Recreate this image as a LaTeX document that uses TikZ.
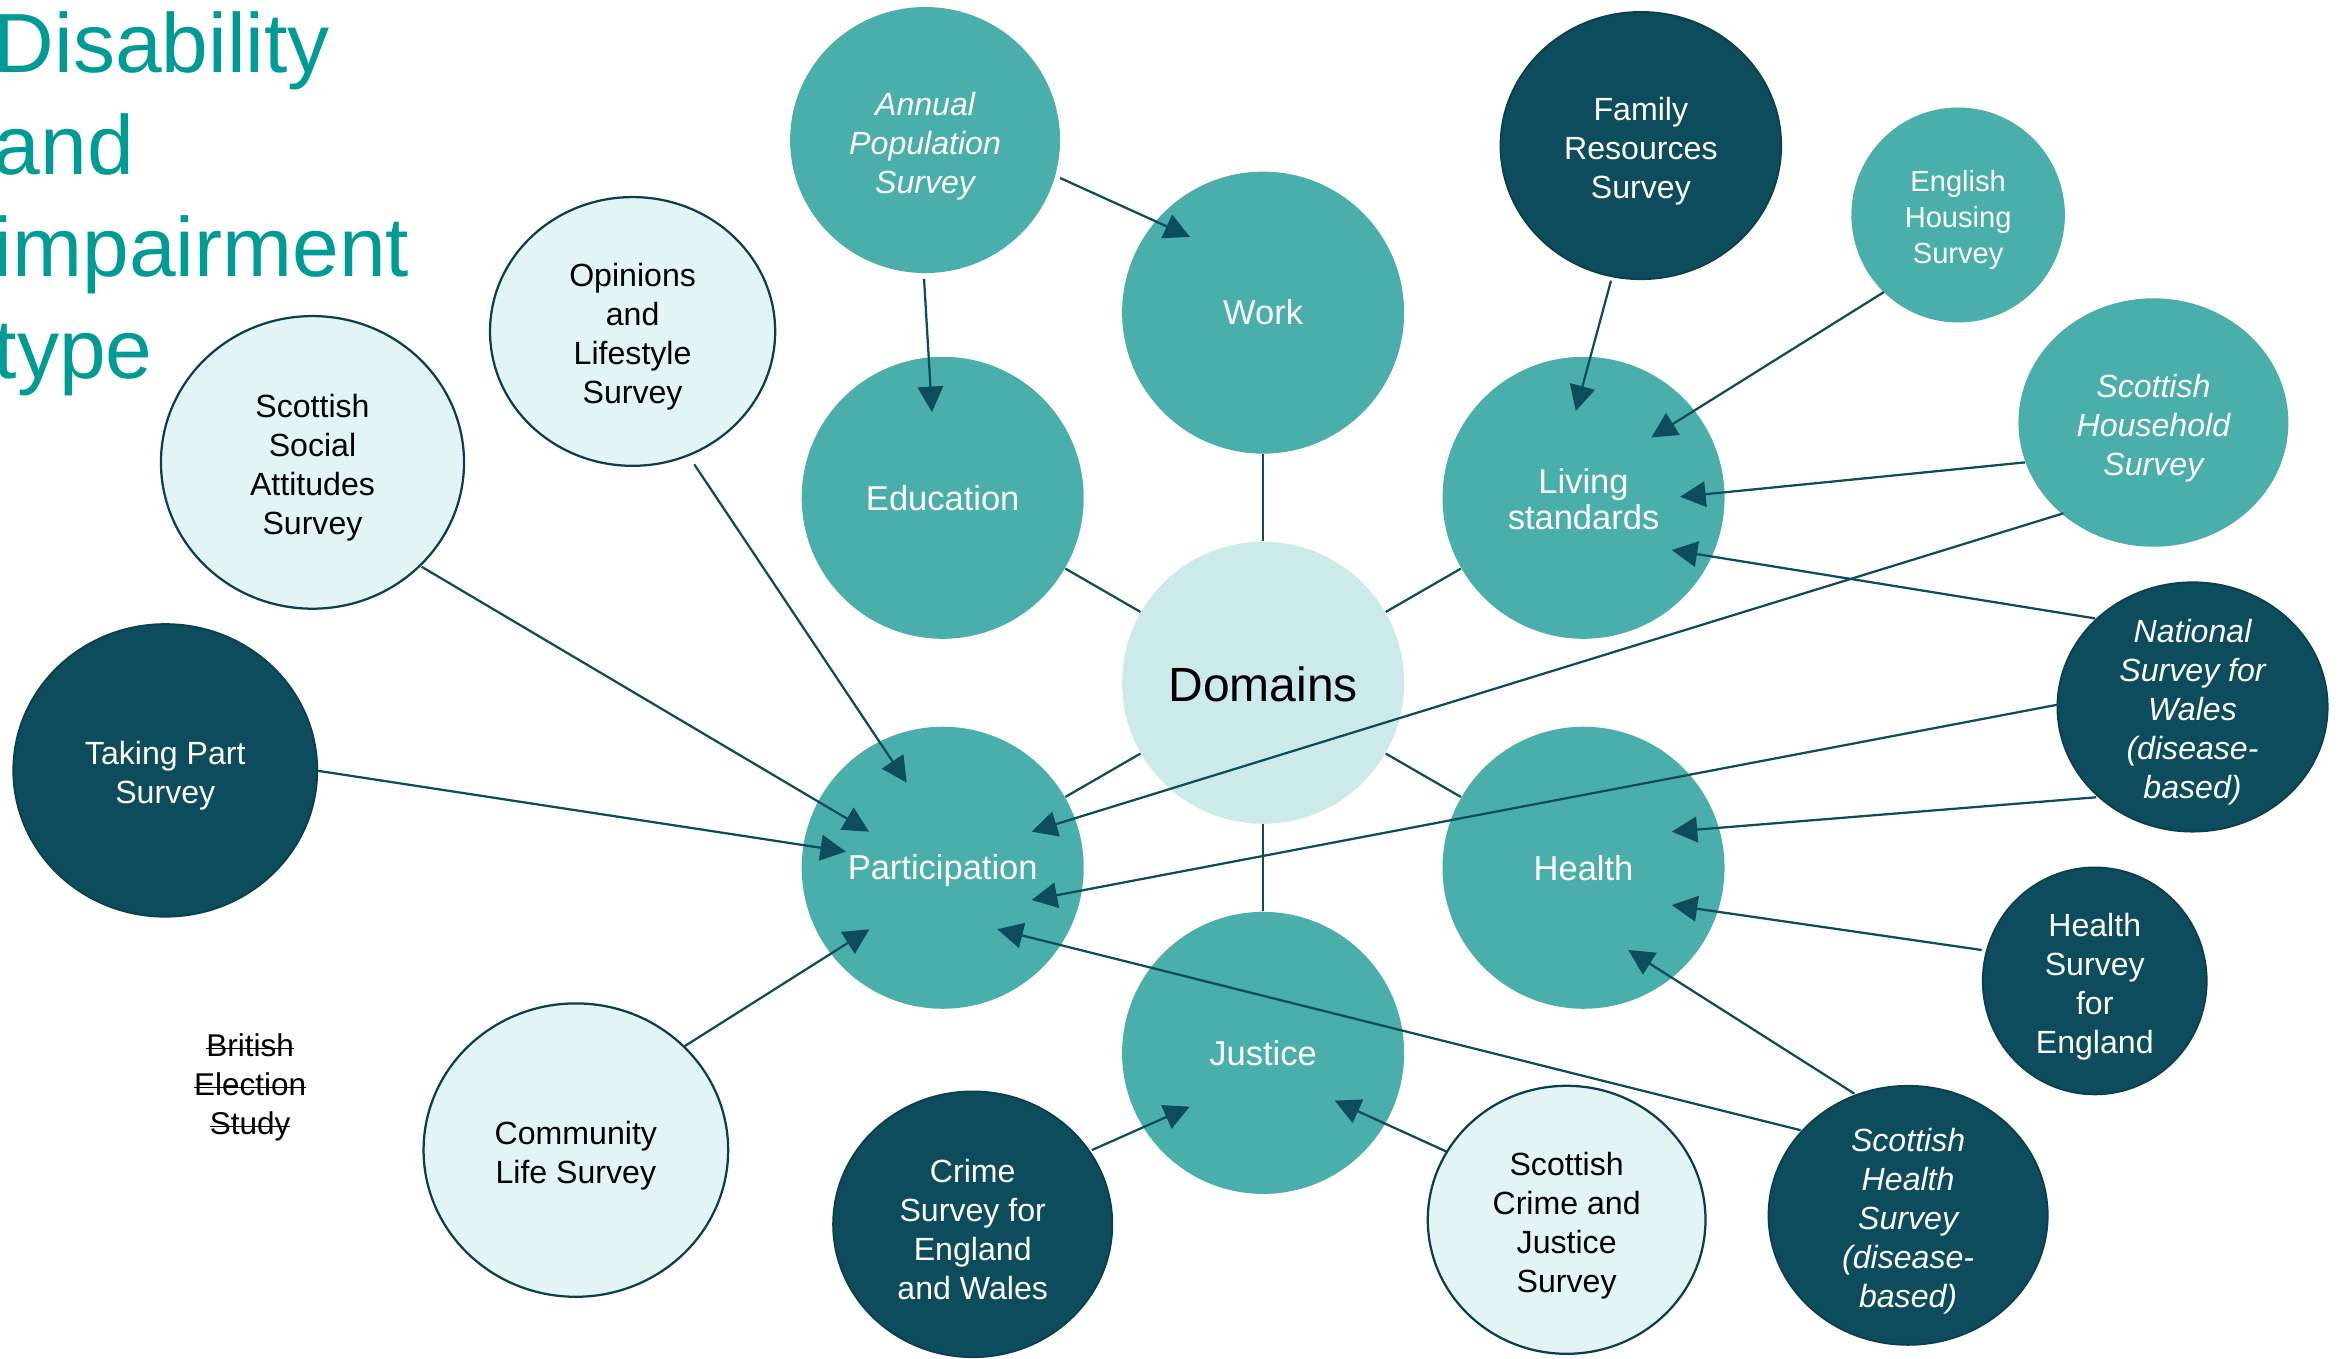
\documentclass[tikz,border=0pt]{standalone}
\usepackage{fontspec}
\setmainfont{Liberation Sans}
\usetikzlibrary{shapes.geometric,arrows.meta,calc}
\definecolor{midteal}{HTML}{4AAFAA}
\definecolor{darkteal}{HTML}{0C4C5C}
\definecolor{lightteal}{HTML}{E3F4F4}
\definecolor{domfill}{HTML}{CDEAEA}
\definecolor{titleteal}{HTML}{009B94}
\definecolor{edgeline}{HTML}{0B3F4D}
\newlength\dpx
\setlength\dpx{0.4977pt}
\newcommand\strk[1]{\setbox0\hbox{#1}\rlap{\rule[0.22em]{\wd0}{0.45pt}}\box0}
\newcommand\topgap[1]{\rule{0pt}{#1em}}
\newcommand\sg{\topgap{1.08}}
\tikzset{
  bub/.style={ellipse, inner sep=0pt, align=center},
  sz/.style 2 args={minimum width=#1*\dpx, minimum height=#2*\dpx},
  srcfont/.style={font=\fontsize{10.7}{13}\selectfont},
  itfont/.style={font=\fontsize{10.7}{13}\selectfont\itshape},
  dombub/.style={bub, fill=midteal, text=white, font=\fontsize{11.5}{12.2}\selectfont, sz={188.9}{188.9}},
  midsrc/.style={bub, fill=midteal, text=white, srcfont},
  darksrc/.style={bub, fill=darkteal, draw=edgeline, line width=0.6pt, text=white, srcfont},
  lightsrc/.style={bub, fill=lightteal, draw=edgeline, line width=0.75pt, text=black, srcfont},
  tall/.style={inner sep=-7pt},
  arr/.style={draw=darkteal, line width=0.75pt, -{Triangle[length=8.5pt,width=8.5pt]}},
  dlink/.style={draw=darkteal, line width=0.75pt},
}
\begin{document}
\begin{tikzpicture}[x=0.4977pt, y=-0.4977pt]
\useasboundingbox (0,0) rectangle (1566.6,909.6);

% title
\node[anchor=north west, align=left, inner sep=0pt, text=titleteal, font=\fontsize{28}{34}\selectfont] (title) at (-4.5,7.7) {Disability\\and\\impairment\\type};

% domains
\node[bub, fill=domfill, text=black, font=\fontsize{16}{19}\selectfont, sz={188.9}{188.9}] (dom) at (846,457.3) {\topgap{0.8}Domains};
\node[dombub] (work) at (846,209.4) {Work};
\node[dombub] (jus) at (846,705.2) {Justice};
\node[dombub] (edu) at (631.4,333.4) {Education};
\node[dombub] (liv) at (1060.6,333.4) {\topgap{0.8}Living\\standards};
\node[dombub] (part) at (631.4,581.2) {\topgap{0.9}Participation};
\node[dombub] (hea) at (1060.6,581.2) {Health};

% sources
\node[midsrc, itfont, sz={180.8}{178.2}] (aps) at (619.6,93.8) {\sg Annual\\Population\\Survey};
\node[darksrc, sz={188}{179}] (frs) at (1099,97.5) {\sg Family\\Resources\\Survey};
\node[midsrc, font=\fontsize{9.7}{12}\selectfont, sz={143}{144}] (ehs) at (1311.5,144) {\sg English\\Housing\\Survey};
\node[midsrc, itfont, sz={180.8}{166.4}] (shs) at (1442.3,283) {\sg Scottish\\Household\\Survey};
\node[darksrc, itfont, tall, sz={181}{167}] (nsw) at (1468.5,473.5) {\sg National\\Survey for\\Wales\\(disease-\\based)};
\node[darksrc, tall, sz={150}{152}] (hse) at (1403,657) {\sg Health\\Survey\\for\\England};
\node[darksrc, itfont, tall, sz={187}{173.5}] (shes) at (1278,814) {\sg Scottish\\Health\\Survey\\(disease-\\based)};
\node[lightsrc, sz={186}{179.5}] (scjs) at (1049.3,817) {\sg Scottish\\Crime and\\Justice\\Survey};
\node[darksrc, sz={187}{178}] (csew) at (651.5,820) {\sg Crime\\Survey for\\England\\and Wales};
\node[lightsrc, sz={204}{196.5}] (cls) at (385.7,770.3) {\sg Community\\Life Survey};
\node[darksrc, sz={203.6}{196}] (tps) at (110.7,516) {\sg Taking Part\\Survey};
\node[lightsrc, sz={203}{196}] (ssa) at (209.3,309.7) {\sg Scottish\\Social\\Attitudes\\Survey};
\node[lightsrc, sz={191}{180}] (ols) at (423.7,222) {\sg Opinions\\and\\Lifestyle\\Survey};
\node[align=center, inner sep=0pt, font=\fontsize{10.5}{13}\selectfont] (bes) at (167.5,728) {\strk{British}\\\strk{Election}\\\strk{Study}};

% links to Domains
\draw[dlink] (work) -- (dom);
\draw[dlink] (jus) -- (dom);
\draw[dlink] (edu) -- (dom);
\draw[dlink] (liv) -- (dom);
\draw[dlink] (part) -- (dom);
\draw[dlink] (hea) -- (dom);

% arrows
\draw[arr] ($(aps)+(90.4,25.4)$) -- ($(work)+(-49,-50.7)$);
\draw[arr] ($(aps)+(-0.7,93.1)$) -- ($(edu)+(-7.2,-57.4)$);
\draw[arr] ($(frs)+(-20,90.5)$) -- ($(liv)+(-5.2,-58.1)$);
\draw[arr] ($(ehs)+(-49.7,51.6)$) -- ($(liv)+(45.4,-40.4)$);
\draw[arr] ($(shs)+(-86,26.7)$) -- ($(liv)+(64.7,-0.7)$);
\draw[arr] ($(shs)+(-60.3,60.8)$) -- ($(part)+(59.6,-24.2)$);
\draw[arr] ($(nsw)+(-65.3,-59.3)$) -- ($(liv)+(59.1,35)$);
\draw[arr] ($(nsw)+(-90.5,-1.5)$) -- ($(part)+(59.6,21.6)$);
\draw[arr] ($(nsw)+(-64.5,60.5)$) -- ($(hea)+(59.1,-24.2)$);
\draw[arr] ($(hse)+(-75.7,-20.7)$) -- ($(hea)+(59.1,25)$);
\draw[arr] ($(shes)+(-36,-81.5)$) -- ($(hea)+(30,55.1)$);
\draw[arr] ($(shes)+(-72,-57)$) -- ($(part)+(36.6,41.2)$);
\draw[arr] ($(scjs)+(-80.3,-45.6)$) -- ($(jus)+(48,32)$);
\draw[arr] ($(csew)+(79.8,-49.7)$) -- ($(jus)+(-49.2,36)$);
\draw[arr] ($(cls)+(72.4,-69.3)$) -- ($(part)+(-49.1,41.2)$);
\draw[arr] ($(tps)+(101.8,0.2)$) -- ($(part)+(-64.8,-10.8)$);
\draw[arr] ($(ssa)+(73.1,69.9)$) -- ($(part)+(-49.4,-24.2)$);
\draw[arr] ($(ols)+(41.3,89)$) -- ($(part)+(-24.1,-57)$);
\end{tikzpicture}
\end{document}
